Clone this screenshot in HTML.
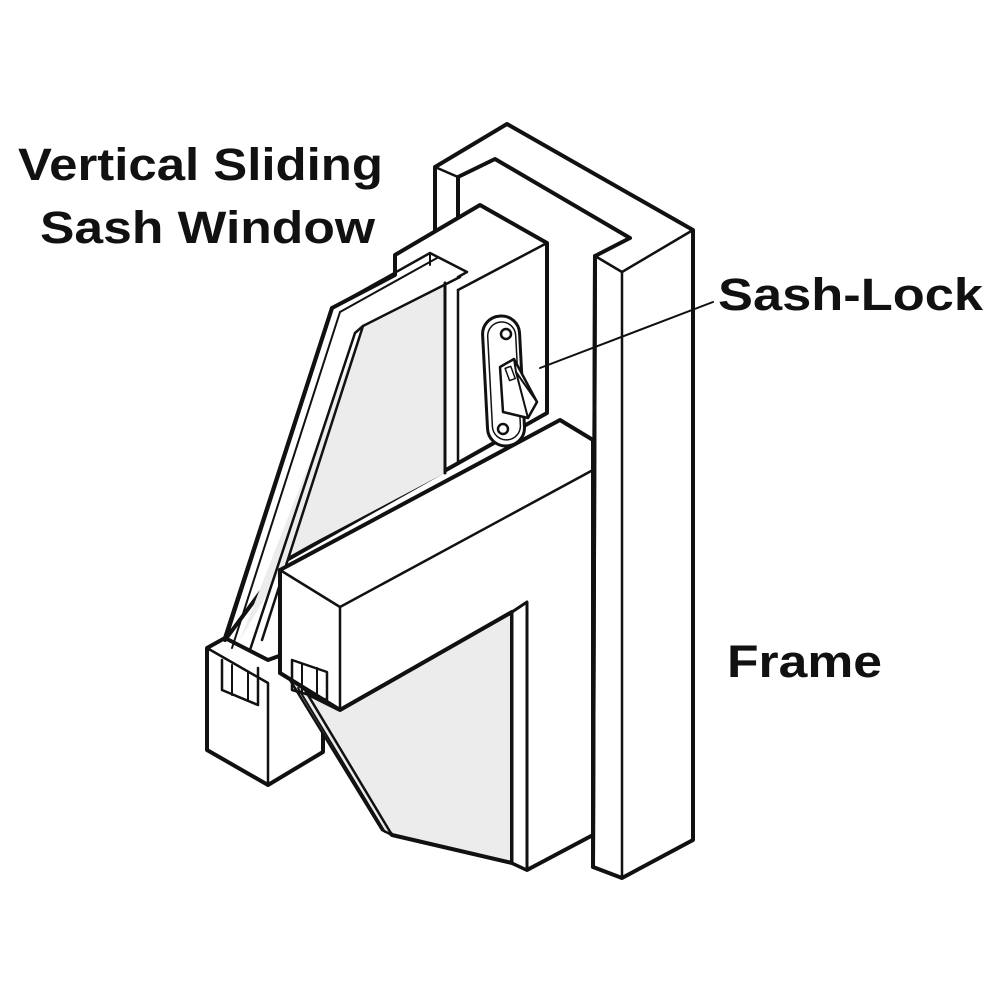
<!DOCTYPE html>
<html><head><meta charset="utf-8"><style>
html,body{margin:0;padding:0;background:#fff}
svg{display:block}
text{font-family:"Liberation Sans",Arial,sans-serif;font-weight:bold;fill:#111}
</style></head><body>
<svg width="1000" height="1000" viewBox="0 0 1000 1000" xmlns="http://www.w3.org/2000/svg">
<g stroke="#111" stroke-linejoin="round" stroke-linecap="round" fill="#fff">
<!-- Frame back/top -->
<polygon points="435,167 507,124 693,230 693,840 622,878 593,867 595,256 630,238 495,159 458,177 458,260 435,260" stroke-width="4"/>
<polyline points="435,167 458,177" fill="none" stroke-width="2.5"/>
<polyline points="595,256 622,272 693,230" fill="none" stroke-width="2.5"/>
<line x1="622" y1="272" x2="622" y2="878" stroke-width="2.5"/>
<line x1="595" y1="256" x2="593" y2="867" stroke-width="4"/>

<!-- bottom-left block -->
<polygon points="207,648 225,638 268,660 323,640 323,752 268,785 207,750" stroke-width="4"/>
<polyline points="207,648 268,683 268,785" fill="none" stroke-width="2.5"/>

<!-- upper sash -->
<polygon points="395,255 480,205 547,243 547,413 283,562 225,640 332,308 395,275" stroke-width="4"/>
<polyline points="458,290 547,243" fill="none" stroke-width="2.5"/>
<line x1="458" y1="290" x2="458" y2="462" stroke-width="2.5"/>
<!-- gray glass upper -->
<polygon points="363,326 445,283 445,473 290,555 240,640" fill="#ececec" stroke="none"/>
<line x1="445" y1="283" x2="445" y2="473" stroke-width="3"/>
<!-- glass strips -->
<polyline points="332,308 430,253 467,272 458,277" fill="none" stroke-width="2.5"/>
<polyline points="340,312 437,258" fill="none" stroke-width="2"/>
<polyline points="363,326 460,277" fill="none" stroke-width="2.5"/>
<polyline points="363,326 355,333" fill="none" stroke-width="2.5"/>
<line x1="332" y1="308" x2="225" y2="638" stroke-width="4"/>
<line x1="340" y1="312" x2="232" y2="648" stroke-width="2"/>
<line x1="355" y1="333" x2="250" y2="650" stroke-width="2.5"/>
<line x1="363" y1="326" x2="262" y2="640" stroke-width="2.5"/>
<line x1="430" y1="253" x2="430" y2="265" stroke-width="2"/>
<!-- slots in block -->
<polyline points="222,660 222,690 258,705 258,668" fill="none" stroke-width="2.5"/>
<line x1="232" y1="665" x2="232" y2="695" stroke-width="2"/>
<line x1="248" y1="672" x2="248" y2="700" stroke-width="2"/>

<!-- lower sash body -->
<polygon points="280,570 560,420 593,440 593,835 527,870 512,863 512,612 340,710 280,673" stroke-width="4"/>
<!-- lower glass -->
<polygon points="340,710 512,612 512,863 392,835 385,828 300,690" fill="#ececec" stroke-width="4"/>
<polygon points="512,612 527,602 527,870 512,863" fill="#fff" stroke-width="3"/>
<!-- slanted strip lower -->
<polygon points="290,680 305,690 392,835 382,830" fill="#ececec" stroke-width="2.5"/>
<line x1="298" y1="688" x2="385" y2="832" stroke-width="2"/>

<polyline points="280,570 340,607 593,470" fill="none" stroke-width="2.5"/>
<line x1="340" y1="607" x2="340" y2="710" stroke-width="2.5"/>
<line x1="280" y1="570" x2="280" y2="673" stroke-width="4"/>
<!-- rail slot -->
<polyline points="292,660 292,690 327,700 327,672 292,660" fill="none" stroke-width="2.5"/>
<line x1="302" y1="664" x2="302" y2="694" stroke-width="2"/>
<line x1="317" y1="668" x2="317" y2="698" stroke-width="2"/>

<!-- sash lock plate -->
<rect x="485" y="316" width="37" height="130" rx="18" ry="18" transform="rotate(-3 503 380)" stroke-width="3"/>
<rect x="490" y="322" width="28" height="118" rx="14" ry="14" transform="rotate(-3 503 380)" stroke-width="1.5"/>
<circle cx="506" cy="334" r="5" stroke-width="2.5"/>
<circle cx="503" cy="429" r="5" stroke-width="2.5"/>
<polygon points="500,367 514,359 537,402 528,418 503,412" stroke-width="2.5"/>
<polyline points="514,359 516,372 528,418" fill="none" stroke-width="2"/>
<line x1="516" y1="372" x2="537" y2="402" stroke-width="2"/>
<rect x="507" y="367" width="6" height="13" transform="rotate(-20 510 373)" stroke-width="1.5"/>
<!-- leader -->
<line x1="540" y1="368" x2="713" y2="302" stroke-width="2"/>
</g>
<text x="18" y="180" font-size="45" textLength="365" lengthAdjust="spacingAndGlyphs">Vertical Sliding</text>
<text x="40" y="243" font-size="45" textLength="335" lengthAdjust="spacingAndGlyphs">Sash Window</text>
<text x="718" y="310" font-size="45" textLength="265" lengthAdjust="spacingAndGlyphs">Sash-Lock</text>
<text x="727" y="677" font-size="45" textLength="155" lengthAdjust="spacingAndGlyphs">Frame</text>
</svg>
</body></html>
